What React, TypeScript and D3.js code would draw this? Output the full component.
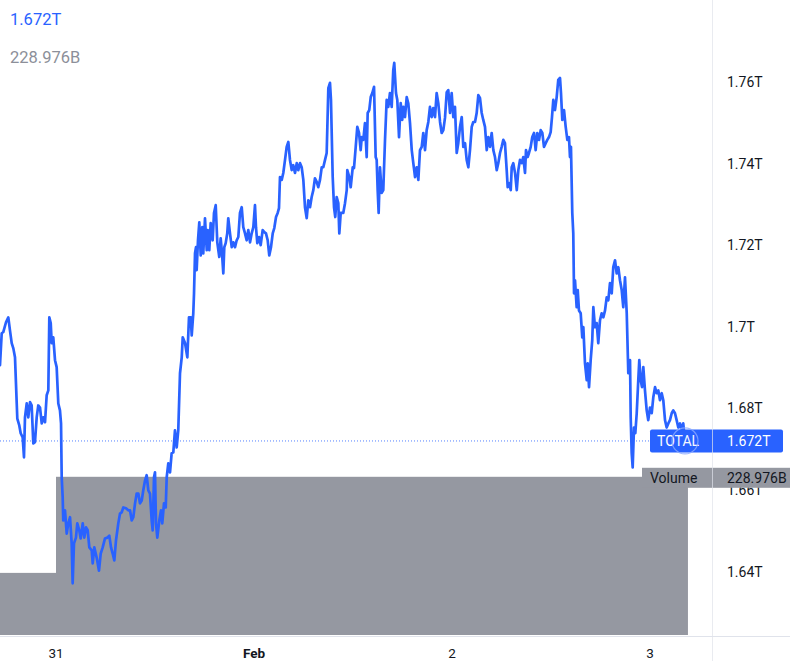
import React from "react";
import * as d3 from "d3";

// hours since 2022-01-31 00:00 UTC
const timeH = [
  -6.79,-6.58,-6.39,-6.06,-5.78,-5.58,-5.37,-5.17,-4.97,-4.76,-4.69,-4.45,-4.28,-4.04,-3.88,-3.76,-3.55,-3.36,-3.15,-2.95,
  -2.75,-2.55,-2.34,-2.15,-1.94,-1.73,-1.54,-1.33,-1.13,-0.93,-0.81,-0.64,-0.52,-0.33,-0.12,0.08,0.28,0.48,0.61,0.69,
  0.81,0.88,1.09,1.30,1.49,1.70,1.90,2.02,2.18,2.42,2.58,2.82,2.99,3.24,3.43,3.64,3.84,4.04,4.33,4.45,
  4.64,4.93,5.21,5.42,5.66,5.94,6.22,6.46,6.67,6.87,7.07,7.27,7.55,7.76,7.96,8.16,8.48,8.76,8.97,9.18,
  9.37,9.58,9.78,9.98,10.18,10.39,10.58,10.79,10.99,11.19,11.39,11.60,11.72,11.88,12.00,12.12,12.28,12.52,12.73,12.88,
  13.09,13.30,13.42,13.61,13.82,14.02,14.22,14.42,14.63,14.82,15.03,
  15.24,15.36,15.64,15.92,16.12,16.33,16.45,16.64,16.73,16.85,16.97,17.05,17.21,17.37,17.54,17.73,17.85,18.06,18.27,18.39,
  18.58,18.75,18.99,19.15,19.36,19.55,19.79,19.96,20.12,20.28,20.40,20.57,20.76,20.88,21.09,21.30,21.49,21.70,21.90,22.10,
  22.30,22.51,22.70,22.91,23.11,23.31,23.52,23.72,23.92,24.12,24.24,24.40,24.61,24.81,25.05,25.25,25.45,25.66,25.85,26.06,
  26.27,26.46,26.67,26.87,27.03,27.15,27.36,27.55,27.76,27.96,28.16,28.36,28.57,28.76,28.97,29.18,29.37,29.58,29.78,29.98,
  30.18,30.39,30.58,30.79,30.99,31.19,31.39,31.60,31.79,32.00,32.21,32.40,32.61,32.81,33.01,33.21,33.33,33.54,33.70,33.85,
  34.02,34.22,34.34,34.51,
  34.82,35.03,35.24,35.31,35.55,35.72,35.97,36.12,36.33,36.52,36.73,36.93,37.06,37.25,37.45,37.66,37.78,37.97,38.15,38.34,
  38.55,38.75,38.87,38.99,39.11,39.27,39.48,39.67,39.88,40.08,40.28,40.48,40.69,40.88,41.00,41.21,41.37,41.58,41.78,41.97,
  42.10,42.30,42.51,42.70,42.91,43.12,43.31,43.52,43.72,43.92,44.12,44.33,44.52,44.73,44.93,45.13,45.33,45.54,45.73,45.94,
  46.14,46.34,46.55,46.75,46.95,47.15,47.36,47.55,47.76,47.96,48.16,48.36,48.57,48.76,48.97,49.18,49.37,49.58,49.78,49.98,
  50.18,50.39,50.58,50.79,50.99,51.19,51.39,51.60,51.79,52.00,52.21,52.40,52.61,52.81,53.01,53.21,53.42,53.61,53.82,54.02,
  54.22,54.42,54.63,54.75,54.95,55.12,
  55.24,55.43,55.64,55.85,56.04,56.24,56.45,56.64,56.85,56.97,57.17,57.33,57.54,57.73,57.94,58.14,58.34,58.55,58.75,58.95,
  59.15,59.36,59.55,59.76,59.96,60.12,60.28,60.48,60.69,60.88,61.09,61.21,61.37,61.58,61.78,61.98,62.18,62.30,62.42,62.58,
  62.70,62.79,62.91,63.11,63.24,63.39,63.60,63.79,63.92,64.12,64.33,64.45,64.61,64.81,65.00,65.13,65.33,65.54,65.73,65.94,
  66.14,66.34,66.55,66.75,66.95,67.15,67.36,67.55,67.76,67.96,68.16,68.36,68.57,68.76,68.97,69.18,69.37,69.58,69.66,69.78,
  69.90,70.06,70.22,70.39,70.58,70.70,70.87,71.03,71.19,71.39,71.60,71.79,72.00,72.21,72.40,72.61,72.81,73.01,73.21,73.42,
  73.61,73.82,74.02,74.22,74.42,74.63,74.82,75.03,75.23,75.43,75.64,75.84,76.03,76.24
];

// total crypto market cap, billions USD
const totalCapB = [
  1690.6,1698.4,1698.7,1701.1,1702.3,1699.1,1696.0,1694.7,1692.5,1681.2,1677.5,1675.8,1673.9,1672.9,1668.0,1677.8,1681.2,1677.8,1681.5,1680.7,
  1671.4,1671.7,1677.8,1680.7,1680.2,1676.3,1677.8,1676.6,1683.2,1684.4,1702.3,1700.9,1696.0,1697.4,1691.8,1690.1,1681.2,1679.5,1676.3,1663.1,
  1658.2,1652.5,1655.0,1649.3,1651.8,1653.3,1646.9,1637.1,1646.9,1648.3,1651.8,1650.1,1648.1,1651.8,1648.3,1650.8,1650.1,1645.9,1645.2,1642.0,
  1645.9,1643.4,1640.2,1644.4,1645.9,1648.1,1648.3,1648.8,1645.9,1644.4,1642.7,1647.6,1651.8,1654.2,1654.5,1655.7,1655.5,1655.0,1655.0,1652.5,
  1653.3,1656.7,1659.1,1659.1,1656.7,1657.4,1659.9,1662.3,1663.6,1659.9,1659.1,1652.5,1650.1,1663.1,1664.3,1651.8,1648.3,1652.5,1655.0,1651.8,
  1656.7,1655.7,1663.1,1666.5,1664.3,1669.0,1669.2,1674.6,1670.4,1674.6,1688.6,
  1692.5,1697.4,1696.0,1692.5,1702.3,1702.3,1697.9,1703.3,1708.2,1718.0,1719.5,1713.9,1721.2,1725.6,1717.5,1724.4,1718.0,1726.6,1718.8,1723.7,
  1718.8,1725.4,1721.2,1727.9,1729.8,1720.7,1717.1,1721.7,1718.0,1713.1,1719.5,1720.5,1722.9,1726.6,1722.9,1719.5,1720.7,1719.5,1721.2,1722.0,
  1727.9,1729.3,1724.4,1722.9,1721.2,1723.7,1720.7,1722.9,1724.4,1729.8,1724.4,1720.5,1722.0,1720.0,1723.7,1723.2,1722.9,1721.2,1717.5,1719.5,
  1722.9,1724.2,1726.9,1727.9,1729.1,1736.7,1736.0,1737.7,1740.9,1744.1,1745.3,1740.9,1738.4,1739.6,1737.7,1740.1,1738.4,1740.1,1739.1,1736.0,
  1729.3,1726.6,1731.0,1729.3,1731.8,1733.5,1736.4,1735.5,1734.2,1736.0,1739.1,1739.1,1740.9,1742.6,1758.5,1759.8,1755.6,1736.7,1729.3,1726.9,
  1731.8,1730.3,1722.9,1727.9,
  1727.9,1730.3,1733.5,1738.4,1736.7,1734.2,1739.1,1738.9,1744.1,1749.0,1747.5,1743.3,1746.5,1745.8,1749.9,1741.6,1752.4,1753.1,1756.3,1757.3,
  1758.8,1741.6,1740.9,1733.5,1727.9,1739.1,1732.8,1733.5,1745.8,1755.6,1753.9,1757.3,1753.9,1762.9,1764.7,1757.3,1755.6,1746.5,1754.8,1750.7,
  1753.9,1751.4,1756.3,1754.8,1749.9,1743.3,1740.1,1736.7,1739.1,1736.0,1743.3,1744.1,1747.5,1743.3,1748.2,1750.2,1753.9,1751.4,1753.6,1751.4,
  1757.3,1754.8,1750.2,1747.5,1748.2,1751.2,1757.5,1758.0,1752.4,1757.3,1751.4,1753.9,1742.6,1745.0,1749.0,1751.4,1744.1,1745.0,1740.9,1739.1,
  1743.3,1749.0,1750.2,1750.2,1752.4,1756.8,1756.1,1752.4,1750.7,1749.0,1743.3,1746.5,1744.1,1747.5,1743.3,1741.6,1738.4,1740.1,1742.6,1744.1,
  1745.8,1745.0,1738.4,1734.2,1735.2,1733.5,
  1739.1,1740.1,1737.7,1733.5,1738.4,1740.9,1740.1,1741.6,1737.7,1743.3,1741.6,1742.6,1744.1,1746.5,1747.5,1743.3,1747.5,1745.8,1748.2,1747.5,
  1744.1,1745.0,1745.8,1746.5,1747.7,1751.4,1755.6,1753.1,1756.3,1760.5,1761.0,1757.3,1750.7,1753.1,1749.0,1745.8,1746.5,1741.6,1744.1,1727.9,
  1722.9,1708.2,1711.4,1704.8,1709.0,1704.0,1703.3,1697.4,1699.9,1691.0,1686.9,1691.0,1685.2,1691.8,1696.7,1704.8,1699.9,1700.9,1696.0,1701.6,
  1703.3,1702.3,1704.0,1707.2,1706.5,1710.7,1708.2,1714.6,1716.3,1713.1,1714.6,1711.4,1709.0,1704.8,1712.1,1703.3,1688.6,1691.8,1677.8,1669.0,
  1665.5,1675.3,1673.9,1678.8,1686.9,1691.8,1686.9,1685.2,1690.1,1684.4,1679.5,1677.1,1680.2,1678.8,1682.7,1685.2,1683.7,1684.4,1682.0,1683.7,
  1682.0,1677.1,1675.3,1676.3,1677.1,1678.8,1679.5,1678.8,1677.1,1675.3,1676.3,1674.6,1676.3,1672.0
];

// weekly volume bars (hours since 2022-01-31 00:00 UTC), billions
const volStartH = [-168, 0];
const volEndH = [0, 76.6];
const volumeB = [89.9, 228.976];

const priceTicks = [1640, 1660, 1680, 1700, 1720, 1740, 1760];

const W = 790;
const H = 661;
const AXIS_X = 712;
const BOTTOM = 636;
const BLUE = "#2962ff";
const GRAY = "#9598a1";
const FONT = "Roboto, 'Open Sans', sans-serif";

const day0 = Date.UTC(2022, 0, 31);
const toDate = (h: number) => new Date(day0 + h * 3600e3);

export default function App() {
  const x = d3.scaleUtc().domain([toDate(0), toDate(72)]).range([56, 650]);
  const y = d3.scaleLinear().domain([1640, 1760]).range([571.5, 82]);
  const yv = d3.scaleLinear().domain([0, 327.1]).range([635, 409]);

  const pts = timeH.map((h, i) => [toDate(h), totalCapB[i]] as [Date, number]);
  const line = d3
    .line<[Date, number]>()
    .x((d) => x(d[0]))
    .y((d) => y(d[1]))(pts) as string;

  const last = totalCapB[totalCapB.length - 1];
  const lastX = x(toDate(timeH[timeH.length - 1]));
  const lastY = y(last);
  const lastVol = volumeB[volumeB.length - 1];
  const fmtT = (v: number) => (v / 1000).toFixed(3) + "T";
  const fmtB = (v: number) => v.toFixed(3) + "B";

  const dayTicks = d3.utcDay.range(x.invert(0), x.invert(AXIS_X));
  const volY = yv(lastVol);

  return (
    <svg
      width={W}
      height={H}
      style={{ position: "absolute", left: 0, top: 0, background: "#fff" }}
      fontFamily={FONT}
    >
      <defs>
        <clipPath id="pane">
          <rect x={0} y={0} width={AXIS_X} height={BOTTOM} />
        </clipPath>
      </defs>
      <rect width={W} height={H} fill="#fff" />
      <g clipPath="url(#pane)">
        {volumeB.map((v, i) => {
          const x0 = Math.max(-10, x(toDate(volStartH[i])));
          const x1 = x(toDate(volEndH[i]));
          return (
            <rect key={i} x={x0} y={yv(v)} width={x1 - x0} height={yv(0) - yv(v)} fill={GRAY} />
          );
        })}
        <line x1={0} x2={650} y1={lastY} y2={lastY} stroke={BLUE} strokeWidth={1} strokeDasharray="1 2" opacity={0.8} />
        <path d={line} fill="none" stroke={BLUE} strokeWidth={2.7} strokeLinejoin="round" strokeLinecap="round" />
      </g>

      {/* top-left legend */}
      <text x={10} y={19} fill={BLUE} fontSize={16.5} dominantBaseline="central">{fmtT(last)}</text>
      <text x={10} y={57} fill="#8c8f99" fontSize={16.5} dominantBaseline="central">{fmtB(lastVol)}</text>

      {/* price axis labels */}
      {priceTicks.map((t) => (
        <text key={t} x={727} y={y(t)} fill="#131722" fontSize={14} dominantBaseline="central">
          {t / 1000 + "T"}
        </text>
      ))}

      {/* time axis labels */}
      {dayTicks.map((d, i) => {
        const isMonth = d.getUTCDate() === 1;
        return (
          <text
            key={i}
            x={x(d)}
            y={652.5}
            textAnchor="middle"
            dominantBaseline="central"
            fill="#131722"
            fontSize={13.5}
            fontWeight={isMonth ? "bold" : "normal"}
          >
            {isMonth ? d3.utcFormat("%b")(d) : d3.utcFormat("%-d")(d)}
          </text>
        );
      })}

      {/* last price label */}
      <rect x={650} y={lastY - 11.5} width={133} height={23} rx={2} fill={BLUE} />
      <text x={657} y={lastY} fill="#fff" fontSize={14} dominantBaseline="central">TOTAL</text>
      <text x={727} y={lastY} fill="#fff" fontSize={14} dominantBaseline="central">{fmtT(last)}</text>

      {/* volume label */}
      <rect x={642} y={volY - 9} width={W - 642} height={20} fill={GRAY} />
      <text x={650} y={volY + 1} fill="#131722" fontSize={14} dominantBaseline="central">Volume</text>
      <text x={727} y={volY + 1} fill="#131722" fontSize={14} dominantBaseline="central">{fmtB(lastVol)}</text>

      {/* separators */}
      <line x1={AXIS_X + 0.5} x2={AXIS_X + 0.5} y1={0} y2={H} stroke="#e0e3eb" strokeWidth={1} opacity={0.7} />
      <line x1={0} x2={W} y1={BOTTOM + 0.5} y2={BOTTOM + 0.5} stroke="#e0e3eb" strokeWidth={1} />

      {/* last point pulse ring */}
      <circle cx={lastX} cy={lastY} r={13} fill="rgba(41,98,255,0.05)" stroke="rgba(140,170,255,0.8)" strokeWidth={1.2} />
    </svg>
  );
}
